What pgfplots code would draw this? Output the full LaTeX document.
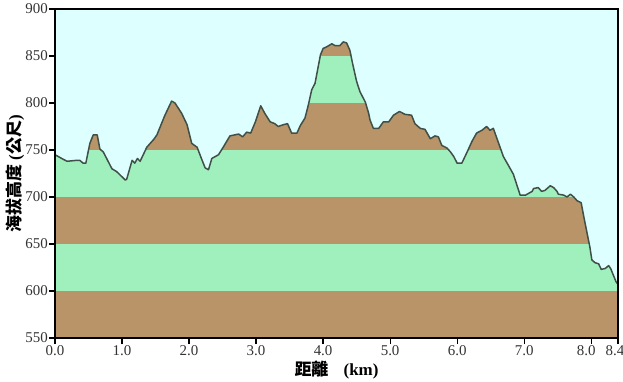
\documentclass[border=0pt]{standalone}
\usepackage{pgfplots}
\usepackage{pgfplotstable}
\pgfplotsset{compat=1.18}
\usepackage{fontspec}
\setmainfont{Liberation Serif}
\newfontfamily\cjk{Noto Sans CJK TC}
\definecolor{sky}{RGB}{222,255,255}
\definecolor{bgreen}{RGB}{160,240,190}
\definecolor{bbrown}{RGB}{184,148,104}
\definecolor{prof}{RGB}{64,80,72}
\pgfplotstableread{
km ele
0.00 745
0.10 741
0.18 738
0.32 739
0.37 739
0.42 736
0.46 736
0.52 757
0.57 766
0.63 766
0.67 751
0.72 748
0.85 730
0.92 727
1.05 718
1.07 719
1.15 739
1.19 736
1.23 741
1.27 738
1.37 753
1.47 761
1.52 766
1.64 787
1.74 802
1.79 800
1.89 789
1.97 777
2.04 757
2.12 753
2.19 740
2.24 731
2.29 729
2.34 741
2.44 745
2.51 753
2.61 765
2.74 767
2.80 764
2.86 769
2.92 768
2.99 780
3.07 797
3.13 789
3.21 780
3.28 778
3.33 775
3.41 777
3.47 778
3.53 768
3.61 768
3.66 776
3.73 784
3.78 798
3.83 814
3.88 821
3.96 851
4.00 858
4.06 860
4.13 863
4.18 861
4.25 861
4.30 865
4.35 864
4.40 856
4.44 842
4.50 823
4.55 812
4.63 801
4.68 789
4.70 782
4.75 773
4.83 773
4.90 780
4.98 780
5.05 787
5.14 791
5.22 788
5.32 787
5.37 778
5.45 773
5.52 772
5.60 762
5.67 765
5.72 764
5.77 755
5.85 752
5.90 748
5.95 743
6.00 736
6.07 736
6.15 748
6.22 759
6.29 768
6.37 771
6.44 775
6.49 771
6.54 773
6.62 757
6.69 743
6.77 733
6.84 724
6.89 713
6.94 702
7.02 702
7.12 706
7.14 709
7.21 710
7.26 706
7.31 707
7.39 712
7.44 710
7.49 706
7.51 703
7.59 702
7.64 700
7.69 703
7.74 700
7.79 696
7.85 694
7.89 679
7.94 661
7.98 647
8.01 633
8.06 630
8.11 629
8.15 623
8.21 624
8.26 627
8.29 624
8.33 617
8.37 610
8.40 607
}\profile
\begin{document}
\begin{tikzpicture}
\begin{axis}[
  scale only axis,
  width=563bp, height=329bp,
  xmin=0, xmax=8.4, ymin=550, ymax=900,
  axis on top,
  axis line style={black, line width=1.6bp},
  every tick/.style={black, line width=1.2bp},
  tick align=outside,
  major tick length=6bp,
  xtick pos=bottom, ytick pos=left,
  xtick={0,1,2,3,4,5,6,7,8,8.4},
  xticklabels={0.0,1.0,2.0,3.0,4.0,5.0,6.0,7.0,\hspace*{-10bp}8.0,\hspace*{-6bp}8.4},
  ytick={550,600,...,900},
  /pgf/number format/assume math mode=true,
  ticklabel style={font=\fontsize{15}{17}\selectfont, text=black!80},
  xticklabel style={inner sep=1bp},
  yticklabel style={inner sep=1bp},
  xlabel={{\cjk\bfseries 距離}\hspace{0.9em}\textbf{(km)}},
  ylabel={{\cjk\bfseries 海拔高度} {\bfseries(}{\cjk\bfseries 公尺}{\bfseries)}},
  label style={font=\fontsize{17}{19}\selectfont},
  xlabel style={at={(axis description cs:0.5,-0.097)}, anchor=center},
  ylabel style={at={(axis description cs:-0.071,0.5)}, anchor=center},
  clip=true,
]
\addplot[fill=bbrown, draw=none] coordinates {(0,550) (8.4,550) (8.4,600) (0,600)} -- cycle;
\addplot[fill=bgreen, draw=none] coordinates {(0,600) (8.4,600) (8.4,650) (0,650)} -- cycle;
\addplot[fill=bbrown, draw=none] coordinates {(0,650) (8.4,650) (8.4,700) (0,700)} -- cycle;
\addplot[fill=bgreen, draw=none] coordinates {(0,700) (8.4,700) (8.4,750) (0,750)} -- cycle;
\addplot[fill=bbrown, draw=none] coordinates {(0,750) (8.4,750) (8.4,800) (0,800)} -- cycle;
\addplot[fill=bgreen, draw=none] coordinates {(0,800) (8.4,800) (8.4,850) (0,850)} -- cycle;
\addplot[fill=bbrown, draw=none] coordinates {(0,850) (8.4,850) (8.4,900) (0,900)} -- cycle;
\addplot[fill=sky, draw=none] table[x=km, y=ele] {\profile} -- (axis cs:8.4,900) -- (axis cs:0,900) -- cycle;
\addplot[prof, line width=1.5bp, line join=round] table[x=km, y=ele] {\profile};
\node[font=\bfseries\fontsize{10}{12}\selectfont, text=black!85] at (axis description cs:0.963,-0.109) {\#72123};
\end{axis}
\pgfresetboundingbox
\path (-55bp,-44bp) rectangle (568bp,338bp);
\end{tikzpicture}
\end{document}
